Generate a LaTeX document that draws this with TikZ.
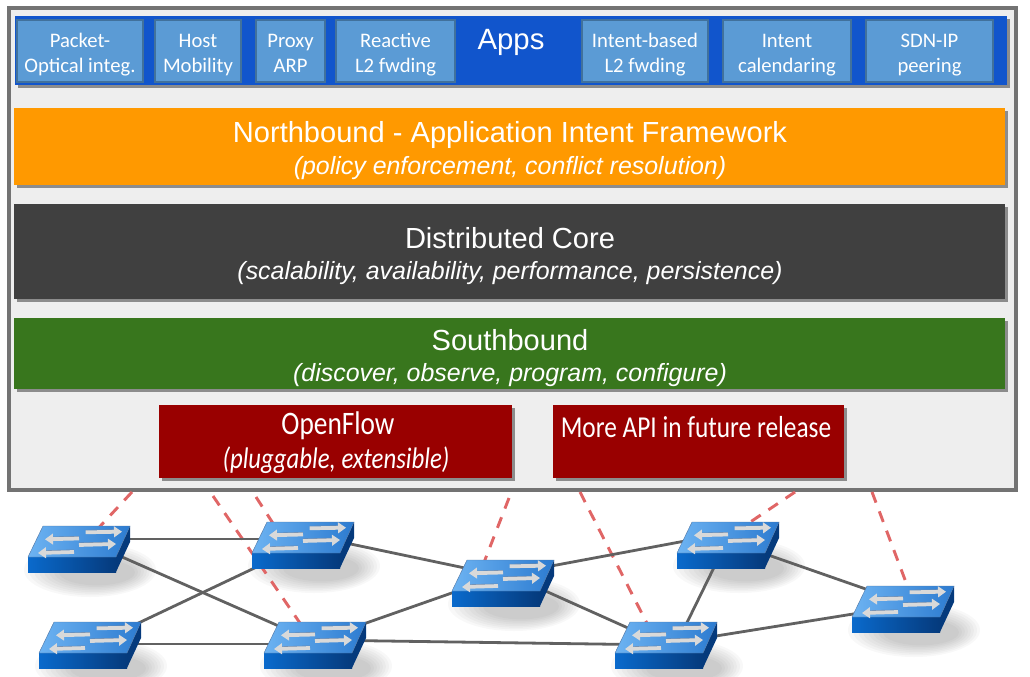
\documentclass[tikz,border=0pt]{standalone}
\usepackage{fontspec}
\setmainfont{Liberation Sans}
\newfontfamily\appfont{Carlito}
\usepackage{xcolor}
\usepackage{graphicx}
\usepackage{tikz}
\usetikzlibrary{arrows.meta,calc}
\definecolor{panelgray}{HTML}{EEEEEE}
\definecolor{appblue}{HTML}{1155CC}
\definecolor{tileblue}{HTML}{5B9BD5}
\definecolor{tileedge}{HTML}{41719C}
\definecolor{northorange}{HTML}{FF9900}
\definecolor{coredark}{HTML}{404040}
\definecolor{southgreen}{HTML}{38761D}
\definecolor{apired}{HTML}{990000}
\definecolor{dropred}{HTML}{E06666}
\definecolor{swtop}{HTML}{2C7BD0}
\definecolor{swlight}{HTML}{6DB3F2}
\definecolor{swfront}{HTML}{0A6ACC}
\definecolor{swdark}{HTML}{053A7C}
\newcommand\talltext[1]{\scalebox{1}[1.2]{#1}}
\tikzset{
  layer/.style={rectangle,anchor=north west,inner sep=0pt,outer sep=0pt,text=white,align=center},
  heading/.style={text=white,font=\fontsize{21.8}{25}\selectfont},
  subheading/.style={text=white,font=\itshape\fontsize{18.7}{22}\selectfont},
  tile/.style={rectangle,anchor=north west,inner sep=0pt,outer sep=0pt,fill=tileblue,draw=tileedge,line width=1.5pt,text=white,align=center,font=\appfont\fontsize{15.5}{18.8}\selectfont,text height=35pt,text depth=2pt},
  dropline/.style={dropred,line width=2.2pt,dash pattern=on 8.5pt off 7pt},
  linkline/.style={black!62,line width=2.1pt},
  swarrow/.style={-{Triangle[length=6pt,width=8pt]},white!85!black,line width=2.8pt},
  pics/switchshadow/.style={code={
    \foreach \k in {0,...,7}
      \fill[black,opacity=.027] (62+\k,44+\k/3) ellipse [x radius=66-\k*4,y radius=27-\k*2];
  }},
  pics/switchbox/.style={code={
    \shade[left color=swfront,right color=swdark] (0,31) rectangle (88,46);
    \fill[swdark] (88,31) -- (102,0) -- (102,16) -- (88,46) -- cycle;
    \shade[left color=swlight,right color=swtop,draw=swdark!70,line width=.3pt] (15,0) -- (102,0) -- (88,31) -- (0,31) -- cycle;
    \foreach \ax/\ay/\bx/\by in {51/12.5/17/13.3,46/26/10/27,57.7/6.3/94/5.7,51/19/88/18}{
      \draw[swdark!60,line width=.7pt] (\ax,\ay-2) -- ($(\bx,\by-2)!.2!(\ax,\ay-2)$);
      \draw[swarrow] (\ax,\ay) -- (\bx,\by);
    }
  }}
}
\begin{document}
\begin{tikzpicture}[x=0.75pt,y=-0.75pt]
\useasboundingbox (0,0) rectangle (1030,677);
% panel
\node[layer,minimum width=1007*0.75pt,minimum height=482*0.75pt,fill=panelgray,draw=black!55,line width=2.4pt] (panel) at (9,8) {};
% shadows of the layers
\fill[black!45] (18,19) rectangle (1010,88);
\fill[black!45] (17,111) rectangle (1008,188);
\fill[black!45] (17,207) rectangle (1008,302);
\fill[black!45] (17,321) rectangle (1008,392);
\fill[black!45] (162,408) rectangle (515,481);
\fill[black!45] (556,408) rectangle (847,481);
% layers
\node[layer,minimum width=992*0.75pt,minimum height=69*0.75pt,fill=appblue] (apps) at (15,16) {};
\node[text=white,font=\fontsize{22}{26}\selectfont] (appstitle) at (511,42) {Apps};
\node[layer,minimum width=991*0.75pt,minimum height=77*0.75pt,fill=northorange] (north) at (14,108) {};
\node[heading] (northtitle) at (510,135) {Northbound - Application Intent Framework};
\node[subheading] (northsub) at (510,168) {(policy enforcement, conflict resolution)};
\node[layer,minimum width=991*0.75pt,minimum height=95*0.75pt,fill=coredark] (core) at (14,204) {};
\node[heading] (coretitle) at (510,238) {Distributed Core};
\node[subheading] (coresub) at (510,273) {(scalability, availability, performance, persistence)};
\node[layer,minimum width=991*0.75pt,minimum height=71*0.75pt,fill=southgreen] (south) at (14,318) {};
\node[heading] (southtitle) at (510,340) {Southbound};
\node[subheading] (southsub) at (510,375) {(discover, observe, program, configure)};
\node[layer,minimum width=353*0.75pt,minimum height=73*0.75pt,fill=apired] (openflow) at (159,405) {};
\node[text=white,font=\appfont\fontsize{20.5}{24}\selectfont] (openflowtitle) at (338,426) {\talltext{OpenFlow}};
\node[text=white,font=\appfont\itshape\fontsize{18.6}{22}\selectfont] (openflowsub) at (336,460) {\talltext{(pluggable, extensible)}};
\node[layer,minimum width=291*0.75pt,minimum height=73*0.75pt,fill=apired] (moreapi) at (553,405) {};
\node[text=white,font=\appfont\fontsize{19}{22}\selectfont] (moreapitext) at (696,427) {\talltext{More API in future release}};
% apps
\node[tile,minimum width=126*0.75pt,minimum height=62*0.75pt] (optical) at (17,20) {Packet-\\Optical integ.};
\node[tile,minimum width=86*0.75pt,minimum height=62*0.75pt] (mobility) at (155,20) {Host\\Mobility};
\node[tile,minimum width=69*0.75pt,minimum height=62*0.75pt] (proxy) at (256,20) {Proxy\\ARP};
\node[tile,minimum width=119*0.75pt,minimum height=62*0.75pt] (reactive) at (336,20) {Reactive\\L2 fwding};
\node[tile,minimum width=126*0.75pt,minimum height=62*0.75pt] (intentfwd) at (582,20) {Intent-based\\L2 fwding};
\node[tile,minimum width=128*0.75pt,minimum height=62*0.75pt] (calendar) at (723,20) {Intent\\calendaring};
\node[tile,minimum width=127*0.75pt,minimum height=62*0.75pt] (peering) at (866,20) {SDN-IP\\peering};
% switch positions, centre of the icon
\coordinate (swa) at (79,549);
\coordinate (swb) at (303,545);
\coordinate (swc) at (90,645);
\coordinate (swd) at (315,645);
\coordinate (swe) at (503,583);
\coordinate (swf) at (728,545);
\coordinate (swg) at (666,645);
\coordinate (swh) at (903,609);
% free ends of the dropped lines
\coordinate (dropa) at (132,492);
\coordinate (dropb) at (213,496);
\coordinate (dropc) at (256,497);
\coordinate (dropd) at (509,498);
\coordinate (drope) at (580,492);
\coordinate (dropf) at (795,492);
\coordinate (dropg) at (872,492);
% soft shadows go under everything
\foreach \sw in {swa,swb,swc,swd,swe,swf,swg,swh}
  \pic at ($(\sw)+(-51,-23)$) {switchshadow};
% dashed lines
\draw[dropline] (dropa) -- (swa);
\draw[dropline] (dropb) -- (swd);
\draw[dropline] (dropc) -- ($(swb)+(-16,0)$);
\draw[dropline] (dropd) -- ($(swe)+(-27,0)$);
\draw[dropline] (drope) -- ($(swg)+(-8,0)$);
\draw[dropline] (dropf) -- ($(swf)+(-12,0)$);
\draw[dropline] (dropg) -- ($(swh)+(13,0)$);
% links
\draw[linkline] ($(swa)+(0,-10)$) -- ($(swb)+(0,-6)$);
\draw[linkline] ($(swa)+(0,-11)$) -- ($(swd)+(0,-3)$);
\draw[linkline] ($(swc)+(0,1)$) -- (swb);
\draw[linkline] ($(swc)+(0,-1)$) -- ($(swd)+(0,-1)$);
\draw[linkline] ($(swb)+(0,-11)$) -- ($(swe)+(0,-7)$);
\draw[linkline] ($(swd)+(0,-4)$) -- ($(swe)+(0,-8)$);
\draw[linkline] ($(swd)+(0,-5)$) -- (swg);
\draw[linkline] ($(swe)+(0,-8)$) -- ($(swf)+(0,-12)$);
\draw[linkline] ($(swe)+(0,-11)$) -- (swg);
\draw[linkline] ($(swf)+(-3,0)$) -- ($(swg)+(10,0)$);
\draw[linkline] ($(swf)+(0,-4)$) -- ($(swh)+(0,-7)$);
\draw[linkline] ($(swg)+(0,-1)$) -- ($(swh)+(0,-3)$);
% switches
\foreach \sw in {swa,swb,swc,swd,swe,swf,swg,swh}
  \pic at ($(\sw)+(-51,-23)$) {switchbox};
\end{tikzpicture}
\end{document}
